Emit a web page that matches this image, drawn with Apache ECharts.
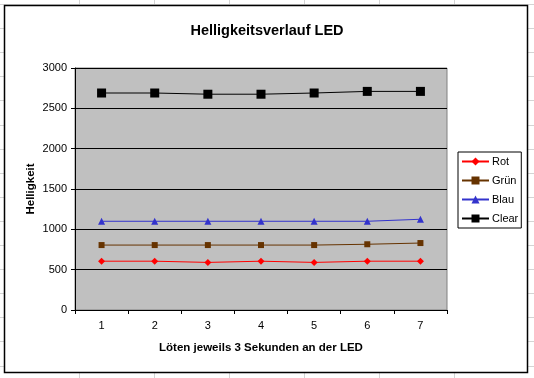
<!DOCTYPE html>
<html><head><meta charset="utf-8">
<script src="https://cdn.jsdelivr.net/npm/echarts@6/dist/echarts.min.js"></script>
<style>html,body{margin:0;padding:0;background:#fff}#c{width:534px;height:378px}</style>
</head><body><div id="c"></div>
<script>
const categories = ['1','2','3','4','5','6','7'];
const rot   = [605, 605, 590, 605, 590, 605, 605];
const gruen = [805, 805, 805, 805, 805, 815, 830];
const blau  = [1100, 1100, 1100, 1100, 1100, 1100, 1125];
const clear = [2690, 2690, 2675, 2675, 2690, 2710, 2710];
const yTicks = {min: 0, max: 3000, interval: 500};

const FONT = 'Liberation Sans, Arial, sans-serif';
const chart = echarts.init(document.getElementById('c'), null, {renderer: 'canvas'});

// spreadsheet cell grid behind the chart
const sheet = [];
[79, 154, 229, 304, 379, 454].forEach(x => sheet.push({type: 'line', z: -10, shape: {x1: x + 0.5, y1: 0, x2: x + 0.5, y2: 378}, style: {stroke: '#d4d4d4', lineWidth: 1}}));
for (let y = 4; y < 378; y += 24.1) sheet.push({type: 'line', z: -10, shape: {x1: 0, y1: Math.round(y) + 0.5, x2: 534, y2: Math.round(y) + 0.5}, style: {stroke: '#d4d4d4', lineWidth: 1}});
sheet.push({type: 'rect', z: -5, shape: {x: 4.5, y: 5.5, width: 523, height: 367}, style: {fill: '#fff', stroke: '#000', lineWidth: 1.5}});

const mk = (name, data, color, symbol, size, lw) => ({
  name, type: 'line', data, symbol, symbolSize: size, showSymbol: true,
  lineStyle: {color, width: lw}, itemStyle: {color, borderWidth: 0},
  emphasis: {disabled: true}, animation: false
});

chart.setOption({
  animation: false,
  textStyle: {fontFamily: FONT},
  title: {text: 'Helligkeitsverlauf LED', left: 'center', top: 18,
    textStyle: {fontFamily: FONT, fontSize: 14.5, fontWeight: 'bold', color: '#000'}},
  graphic: sheet,
  grid: {left: 75, top: 68, right: 87, bottom: 68, show: true, backgroundColor: '#C0C0C0', borderColor: '#808080', borderWidth: 1},
  legend: {
    orient: 'vertical', left: 458, top: 152,
    backgroundColor: '#fff', borderColor: '#000', borderWidth: 1,
    padding: [4, 3, 4, 3], itemGap: 8, itemWidth: 27, itemHeight: 10,
    textStyle: {fontFamily: FONT, fontSize: 11, color: '#000', padding: [0, 0, 0, -2]},
    data: ['Rot', 'Grün', 'Blau', 'Clear']
  },
  xAxis: {
    type: 'category', data: categories, boundaryGap: true,
    name: 'Löten jeweils 3 Sekunden an der LED', nameLocation: 'middle', nameGap: 32,
    nameTextStyle: {fontFamily: FONT, fontSize: 11.5, fontWeight: 'bold', color: '#000'},
    axisLine: {lineStyle: {color: '#000', width: 1}},
    axisTick: {show: true, length: 4, lineStyle: {color: '#000'}},
    axisLabel: {fontFamily: FONT, fontSize: 11, color: '#000', margin: 10},
    splitLine: {show: false}
  },
  yAxis: {
    type: 'value', min: yTicks.min, max: yTicks.max, interval: yTicks.interval,
    name: 'Helligkeit', nameLocation: 'middle', nameGap: 44, nameRotate: 90, nameMoveOverlap: false,
    nameTextStyle: {fontFamily: FONT, fontSize: 11.5, fontWeight: 'bold', color: '#000', verticalAlign: 'middle'},
    axisLine: {show: true, lineStyle: {color: '#000', width: 1}},
    axisTick: {show: true, length: 4, lineStyle: {color: '#000'}},
    axisLabel: {fontFamily: FONT, fontSize: 11, color: '#000', margin: 8, formatter: v => String(v)},
    splitLine: {show: true, lineStyle: {color: '#000', width: 1}}
  },
  series: [
    mk('Rot', rot, '#FF0000', 'diamond', 7, 1),
    mk('Grün', gruen, '#663300', 'rect', 6, 1),
    mk('Blau', blau, '#3333CC', 'triangle', 7, 1),
    mk('Clear', clear, '#000000', 'rect', 9, 1)
  ]
});
</script></body></html>
